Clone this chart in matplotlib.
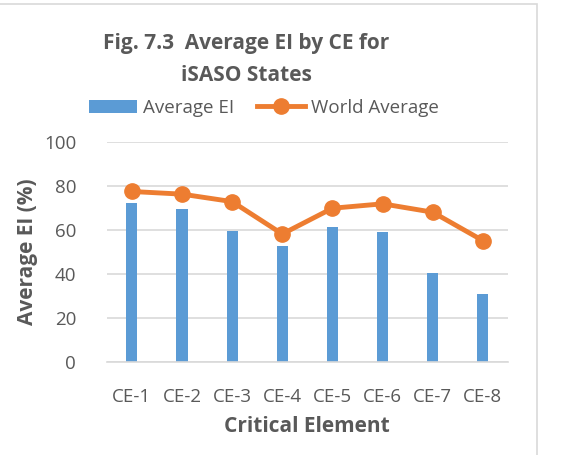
import matplotlib
matplotlib.use('Agg')
import matplotlib.pyplot as plt
import matplotlib.patches as patches
import numpy as np

categories = ['CE-1', 'CE-2', 'CE-3', 'CE-4', 'CE-5', 'CE-6', 'CE-7', 'CE-8']
average_ei = [72.1, 69.5, 59.3, 52.6, 61.2, 58.8, 40.3, 30.8]
world_average = [77.3, 76.1, 72.7, 58.0, 69.7, 71.7, 67.9, 55.0]
y_ticks = [0, 20, 40, 60, 80, 100]

blue = '#5B9BD5'
orange = '#ED7D31'
grey = '#595959'

plt.rcParams['font.family'] = ['Open Sans', 'DejaVu Sans']

fig = plt.figure(figsize=(5.65, 4.55), dpi=100)
ax = fig.add_axes([0.189, 0.205, 0.710, 0.484])

x = np.arange(len(categories))
bars = ax.bar(x, average_ei, width=0.22, color=blue, zorder=2, label='Average EI')
line, = ax.plot(x, world_average, color=orange, lw=3.5, marker='o', markersize=11,
                zorder=3, label='World Average')

ax.set_xlim(-0.5, len(categories) - 0.5)
ax.set_ylim(0, 100)
ax.set_yticks(y_ticks)
ax.set_xticks(x)
ax.set_xticklabels(categories)
ax.yaxis.grid(True, color='#D9D9D9', lw=1.2, zorder=0)
ax.set_axisbelow(True)
for s in ['top', 'right', 'left']:
    ax.spines[s].set_visible(False)
ax.spines['bottom'].set_color('#D9D9D9')
ax.spines['bottom'].set_linewidth(1.2)
ax.tick_params(length=0, labelsize=13.5, labelcolor=grey)
ax.tick_params(axis='y', pad=22)
ax.tick_params(axis='x', pad=19)

ax.set_ylabel('Average EI (%)', fontsize=15, fontweight='bold', color=grey, labelpad=4)
ax.set_xlabel('Critical Element', fontsize=15, fontweight='bold', color=grey, labelpad=7)

fig.text(0.436, 0.905, 'Fig. 7.3  Average EI by CE for', ha='center', va='center',
         fontsize=15, fontweight='bold', color=grey)
fig.text(0.437, 0.833, 'iSASO States', ha='center', va='center',
         fontsize=15, fontweight='bold', color=grey)

fig.legend([bars, line], ['Average EI', 'World Average'], loc='center',
           bbox_to_anchor=(0.467, 0.763), ncol=2, frameon=False,
           fontsize=13.5, labelcolor=grey, handlelength=2.6, handletextpad=0.3,
           columnspacing=1.2)

# chart border
fig.add_artist(patches.Rectangle((-0.02, -0.02), 537 / 565 + 0.02, 1 - 4 / 455 + 0.02,
                                 transform=fig.transFigure, fill=False,
                                 edgecolor='#D9D9D9', lw=1.2))

fig.savefig('out.png', dpi=100, facecolor='white')
